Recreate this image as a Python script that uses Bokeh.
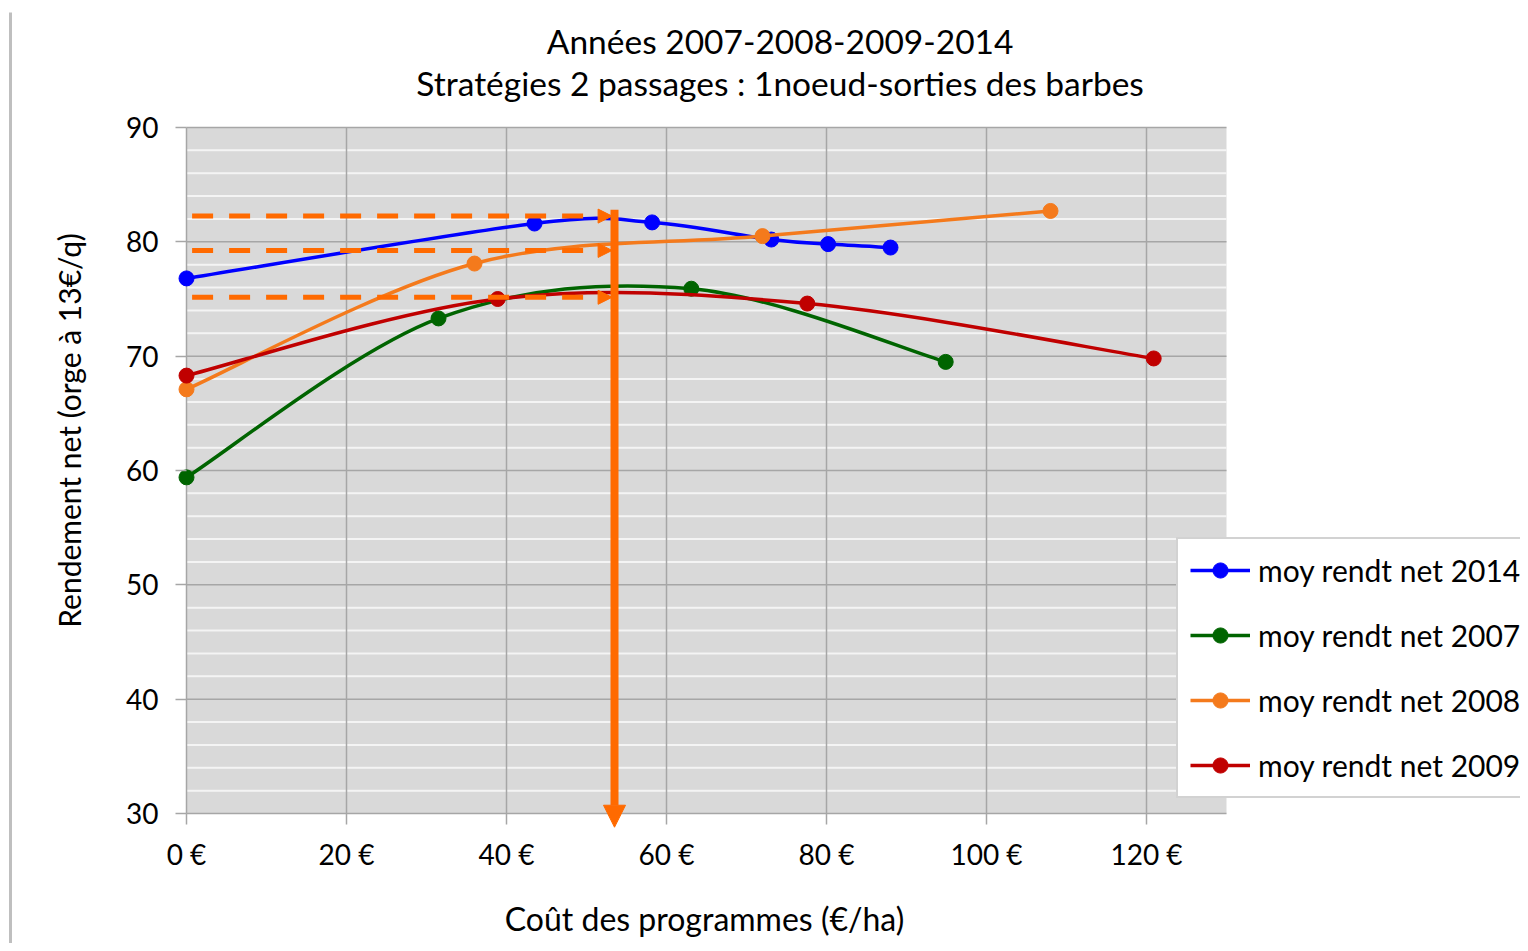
from bokeh.plotting import figure
from bokeh.models import (FixedTicker, Legend, LegendItem, Label, Arrow, NormalHead,
                          ColumnDataSource, Range1d)
from bokeh.embed import file_html
from bokeh.resources import INLINE

# ---------------- data ----------------
x_ticks = [0, 20, 40, 60, 80, 100, 120]
x_tick_labels = ["0 €", "20 €", "40 €", "60 €", "80 €", "100 €", "120 €"]
y_ticks = [30, 40, 50, 60, 70, 80, 90]
y_minor = [32, 34, 36, 38, 42, 44, 46, 48, 52, 54, 56, 58, 62, 64, 66, 68,
           72, 74, 76, 78, 82, 84, 86, 88]
x_lim = (0, 130)
y_lim = (30, 90)

series_names = ["moy rendt net 2014", "moy rendt net 2007",
                "moy rendt net 2008", "moy rendt net 2009"]
series_colors = ["#0000ff", "#006400", "#f47a1c", "#c00000"]

cost_2014 = [0, 43.5, 58.2, 73.1, 80.2, 88.0]
net_2014 = [76.8, 81.6, 81.7, 80.2, 79.8, 79.5]
cost_2007 = [0, 31.5, 63.1, 94.9]
net_2007 = [59.4, 73.3, 75.9, 69.5]
cost_2008 = [0, 36.0, 72.0, 108.0]
net_2008 = [67.1, 78.1, 80.5, 82.7]
cost_2009 = [0, 38.9, 77.6, 120.9]
net_2009 = [68.3, 75.0, 74.6, 69.8]

target_cost = 53.5                      # optimum programme cost (vertical arrow)
target_levels = [82.25, 79.25, 75.15]   # net yield read at optimum
ref_start_cost = 0.7
arrow_top = 82.8
arrow_bottom = 28.8

title_lines = ["Années 2007-2008-2009-2014",
               "Stratégies 2 passages : 1noeud-sorties des barbes"]
x_title = "Coût des programmes (€/ha)"
y_title = "Rendement net (orge à 13€/q)"

FONT = "Lato"
ORANGE = "#ff6a00"
GRID = "#a6a6a6"

# canvas geometry (pixels) -> data ranges
W, H = 1520, 943
PX_X = 8.0                  # px per € unit
PX_Y = 686 / 60.0           # px per q unit
X0_PX, Y90_PX = 186, 127    # position of x=0 and y=90 on the canvas


def smooth_segments(xs, ys):
    """Cubic Bezier control points (Catmull-Rom style, like spreadsheet smoothing)."""
    n = len(xs)
    d = dict(x0=[], y0=[], x1=[], y1=[], cx0=[], cy0=[], cx1=[], cy1=[])
    for i in range(n - 1):
        ip = max(i - 1, 0)
        inx = min(i + 2, n - 1)
        d["x0"].append(xs[i]); d["y0"].append(ys[i])
        d["x1"].append(xs[i + 1]); d["y1"].append(ys[i + 1])
        d["cx0"].append(xs[i] + (xs[i + 1] - xs[ip]) / 6)
        d["cy0"].append(ys[i] + (ys[i + 1] - ys[ip]) / 6)
        d["cx1"].append(xs[i + 1] - (xs[inx] - xs[i]) / 6)
        d["cy1"].append(ys[i + 1] - (ys[inx] - ys[i]) / 6)
    return d


xr = Range1d(-X0_PX / PX_X, (W - X0_PX) / PX_X)
yr = Range1d(90 - (H - Y90_PX) / PX_Y, 90 + Y90_PX / PX_Y)

p = figure(width=W, height=H, output_backend="svg", toolbar_location=None,
           x_range=xr, y_range=yr, min_border=0, min_border_left=0,
           min_border_right=0, min_border_top=0, min_border_bottom=0)
p.background_fill_color = "white"
p.border_fill_color = "white"
p.outline_line_color = None
p.xgrid.visible = False
p.ygrid.visible = False

# plot area background
p.quad(left=[x_lim[0]], right=[x_lim[1]], bottom=[y_lim[0]], top=[y_lim[1]],
       fill_color="#d9d9d9", line_color=None)
# minor horizontal grid (white)
p.segment(x0=[x_lim[0]] * len(y_minor), x1=[x_lim[1]] * len(y_minor),
          y0=y_minor, y1=y_minor, line_color="#f4f4f4", line_width=2)
# major grid
p.segment(x0=[x_lim[0]] * len(y_ticks), x1=[x_lim[1]] * len(y_ticks),
          y0=y_ticks, y1=y_ticks, line_color=GRID, line_width=1.5)
p.segment(x0=x_ticks, x1=x_ticks, y0=[y_lim[0]] * len(x_ticks),
          y1=[y_lim[1]] * len(x_ticks), line_color=GRID, line_width=1.5)

# axes drawn at data positions (ticks + labels)
p.xaxis.fixed_location = y_lim[0]
p.xaxis.bounds = x_lim
p.yaxis.fixed_location = x_lim[0]
p.yaxis.bounds = y_lim
p.xaxis.ticker = FixedTicker(ticks=x_ticks)
p.xaxis.major_label_overrides = {t: l for t, l in zip(x_ticks, x_tick_labels)}
p.yaxis.ticker = FixedTicker(ticks=y_ticks)
for ax in (p.xaxis[0], p.yaxis[0]):
    ax.axis_line_color = None
    ax.major_tick_line_color = GRID
    ax.major_tick_line_width = 1.5
    ax.major_tick_out = 11
    ax.major_tick_in = 0
    ax.minor_tick_line_color = None
    ax.major_label_text_font = FONT
    ax.major_label_text_font_size = "28px"
    ax.major_label_text_color = "black"
p.xaxis.major_label_standoff = 12
p.yaxis.major_label_standoff = 17

# series
items = []
for name, col, xs, ys in zip(series_names, series_colors,
                             [cost_2014, cost_2007, cost_2008, cost_2009],
                             [net_2014, net_2007, net_2008, net_2009]):
    src = ColumnDataSource(smooth_segments(xs, ys))
    br = p.bezier(x0="x0", y0="y0", x1="x1", y1="y1", cx0="cx0", cy0="cy0",
                  cx1="cx1", cy1="cy1", source=src, line_color=col, line_width=3.5)
    sr = p.scatter(x=xs, y=ys, size=15, fill_color=col, line_color=col)
    items.append(LegendItem(label=name, renderers=[br, sr]))

# reference arrows
for lvl in target_levels:
    p.add_layout(Arrow(end=NormalHead(size=14, fill_color=ORANGE, line_color=ORANGE,
                                      line_width=1),
                       x_start=ref_start_cost, y_start=lvl,
                       x_end=target_cost - 0.3, y_end=lvl,
                       line_color=ORANGE, line_width=5, line_dash="21 16"))
p.add_layout(Arrow(end=NormalHead(size=22, fill_color=ORANGE, line_color=ORANGE,
                                  line_width=1),
                   x_start=target_cost, y_start=arrow_top, x_end=target_cost,
                   y_end=arrow_bottom, line_color=ORANGE, line_width=8))

# chart-area border on the left
p.segment(x0=[-22.0], x1=[-22.0], y0=[100.06], y1=[yr.start], line_color="#bfbfbf",
          line_width=3)

legend = Legend(items=items, location=(1176, H - 798), orientation="vertical",
                label_text_font=FONT, label_text_font_size="30px",
                label_text_color="black", glyph_width=60, glyph_height=38,
                label_height=38, label_standoff=8, spacing=27, padding=12,
                margin=0, border_line_color=GRID, border_line_width=2,
                background_fill_color="white", background_fill_alpha=1.0)
p.add_layout(legend, "center")

# titles and axis titles
p.add_layout(Label(x=74.2, y=97.6, text=title_lines[0], text_align="center",
                   text_baseline="middle", text_font=FONT,
                   text_font_size="33.5px", text_color="black"))
p.add_layout(Label(x=74.2, y=93.85, text=title_lines[1], text_align="center",
                   text_baseline="middle", text_font=FONT,
                   text_font_size="33.5px", text_color="black"))
p.add_layout(Label(x=64.75, y=20.82, text=x_title, text_align="center",
                   text_baseline="middle", text_font=FONT,
                   text_font_size="32px", text_color="black"))
p.add_layout(Label(x=-14.75, y=63.5, text=y_title, text_align="center",
                   text_baseline="middle", angle=1.5707963, text_font=FONT,
                   text_font_size="30px", text_color="black"))

open("out.html", "w").write(file_html(p, INLINE))
